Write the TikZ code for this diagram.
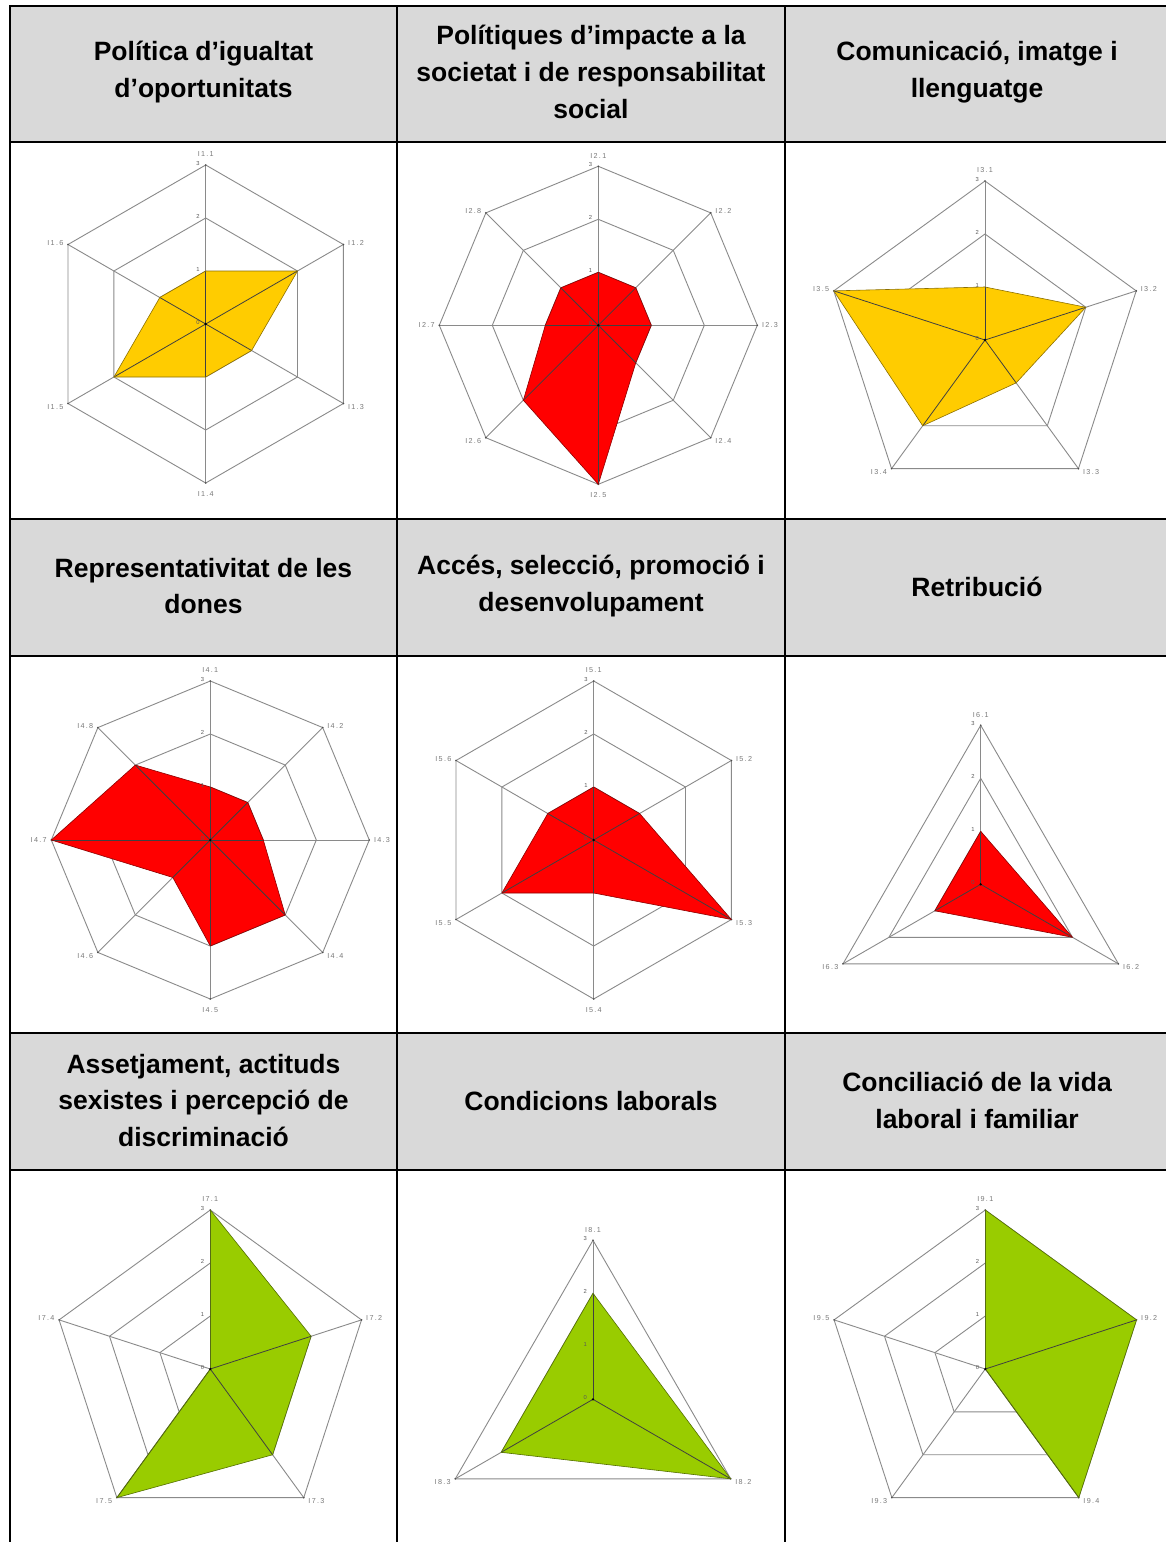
\documentclass[tikz,border=0pt]{standalone}
\usepackage{fontspec}
\setmainfont{Liberation Sans}
\newfontfamily\lblfont[LetterSpace=18]{Liberation Sans}
\definecolor{hdrgray}{HTML}{D9D9D9}
\definecolor{gridgray}{HTML}{8A8A8A}
\definecolor{lblgray}{HTML}{7A7A7A}
\definecolor{cyellow}{HTML}{FFCC00}
\definecolor{cred}{HTML}{FF0000}
\definecolor{cgreen}{HTML}{99CC00}
\tikzset{
  hdr/.style={align=center, font=\bfseries\fontsize{26.5}{36.8}\selectfont, inner sep=0pt},
  gridline/.style={draw=gridgray, line width=0.9pt},
  axlbl/.style={font=\lblfont\fontsize{7.2}{8}\selectfont, text=lblgray, inner sep=0pt},
  ticklbl/.style={font=\fontsize{5.8}{6}\selectfont, text=black!65, inner sep=0pt},
  border/.style={line width=2pt, draw=black},
  hdrbg/.style={fill=hdrgray},
}
\def\rstep{53}
% #1 id, #2 cx, #3 cy, #4 n, #5 values, #6 labels, #7 colour
\newcommand{\radarchart}[7]{%
\begin{scope}[shift={(#2,#3)}]
  \foreach \rr in {1,2,3}{
    \draw[gridline] ({-90}:{\rr*\rstep}) \foreach \kk in {1,...,#4}{ -- ({360*\kk/#4-90}:{\rr*\rstep})} -- cycle;
  }
  \foreach \kk in {1,...,#4}{
    \draw[gridline] (0,0) -- ({360*\kk/#4-90}:{3*\rstep});
    \fill[black!70] ({360*\kk/#4-90}:{3*\rstep}) circle (0.9);
  }
  \foreach \vv [count=\kk from 0] in {#5}{
    \coordinate (#1v\kk) at ({360*\kk/#4-90}:{\vv*\rstep});
  }
  \pgfmathtruncatemacro\nm{#4-1}
  \fill[#7] (#1v0) \foreach \kk in {1,...,\nm}{ -- (#1v\kk)} -- cycle;
  \begin{scope}
    \clip (#1v0) \foreach \kk in {1,...,\nm}{ -- (#1v\kk)} -- cycle;
    \foreach \kk in {1,...,#4}{ \draw[black!75, line width=0.8pt] (0,0) -- ({360*\kk/#4-90}:{3*\rstep}); }
  \end{scope}
  \draw[#7!55!black, line width=0.6pt, line join=round] (#1v0) \foreach \kk in {1,...,\nm}{ -- (#1v\kk)} -- cycle;
  \fill[black] (0,0) circle (1.3);
  \foreach \tk in {0,1,2,3}{
    \node[ticklbl, anchor=east] (#1t\tk) at (-6, {-\tk*\rstep-1.5}) {\tk};
  }
  \foreach \lab [count=\kk from 0] in {#6}{
    \pgfmathsetmacro\ca{cos(90-360*\kk/#4)}
    \pgfmathsetmacro\sa{sin(90-360*\kk/#4)}
    \pgfmathtruncatemacro\anc{abs(\ca)<0.1 ? (\sa>0 ? 270 : 90) : (\ca<0 ? 0 : 180)}
    \pgfmathsetmacro\dx{abs(\ca)<0.1 ? 0 : (\ca<0 ? -4.5 : 4.5)}
    \pgfmathsetmacro\dy{abs(\ca)<0.1 ? (\sa>0 ? 8 : -8) : (\sa>0.1 ? 1.5 : (\sa<-0.1 ? -3.5 : 0))}
    \node[axlbl, anchor=\anc, xshift=\dx pt, yshift=\dy pt] (#1a\kk) at ({360*\kk/#4-90}:{3*\rstep}) {\lab};
  }
\end{scope}}
\begin{document}
\begin{tikzpicture}[x=1pt,y=-1pt]
\useasboundingbox (0,0) rectangle (1165,1542);
\fill[white] (0,0) rectangle (1165,1542);
% header backgrounds
\fill[hdrbg] (10,6) rectangle (1175,142);
\fill[hdrbg] (10,519) rectangle (1175,656);
\fill[hdrbg] (10,1033) rectangle (1175,1170);
% headers
\node[hdr] (h1) at (203.5,72) {Política d’igualtat\\d’oportunitats};
\node[hdr] (h2) at (591,72) {Polítiques d’impacte a la\\societat i de responsabilitat\\social};
\node[hdr] (h3) at (977,72) {Comunicació, imatge i\\llenguatge};
\node[hdr] (h4) at (203.5,586) {Representativitat de les\\dones};
\node[hdr] (h5) at (591,586) {Accés, selecció, promoció i\\desenvolupament};
\node[hdr] (h6) at (977,587) {Retribució};
\node[hdr] (h7) at (203.5,1100.5) {Assetjament, actituds\\sexistes i percepció de\\discriminació};
\node[hdr] (h8) at (591,1101) {Condicions laborals};
\node[hdr] (h9) at (977,1100) {Conciliació de la vida\\laboral i familiar};
% charts
\radarchart{c1}{205.7}{324}{6}{1,2,1,1,2,1}{I1.1,I1.2,I1.3,I1.4,I1.5,I1.6}{cyellow}
\radarchart{c2}{598.3}{325.3}{8}{1,1,1,1,3,2,1,1}{I2.1,I2.2,I2.3,I2.4,I2.5,I2.6,I2.7,I2.8}{cred}
\radarchart{c3}{985}{340}{5}{1,2,1,2,3}{I3.1,I3.2,I3.3,I3.4,I3.5}{cyellow}
\radarchart{c4}{210.3}{840}{8}{1,1,1,2,2,1,3,2}{I4.1,I4.2,I4.3,I4.4,I4.5,I4.6,I4.7,I4.8}{cred}
\radarchart{c5}{593.7}{840}{6}{1,1,3,1,2,1}{I5.1,I5.2,I5.3,I5.4,I5.5,I5.6}{cred}
\radarchart{c6}{980.7}{884.3}{3}{1,2,1}{I6.1,I6.2,I6.3}{cred}
\radarchart{c7}{210.3}{1369}{5}{3,2,2,3,0}{I7.1,I7.2,I7.3,I7.5,I7.4}{cgreen}
\radarchart{c8}{593}{1399.3}{3}{2,3,2}{I8.1,I8.2,I8.3}{cgreen}
\radarchart{c9}{985.3}{1369}{5}{3,3,3,0,0}{I9.1,I9.2,I9.4,I9.3,I9.5}{cgreen}
% table borders
\foreach \yy in {6,142,519,656,1033,1170}{
  \draw[border] (9,\yy) -- (1175,\yy);
}
\foreach \xx in {10,397,785}{
  \draw[border] (\xx,5) -- (\xx,1550);
}
\end{tikzpicture}
\end{document}
